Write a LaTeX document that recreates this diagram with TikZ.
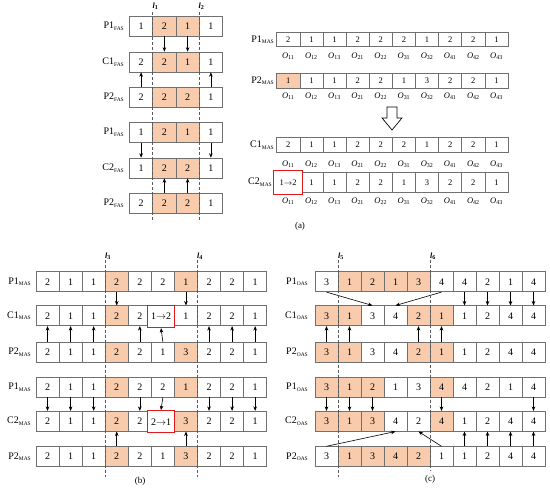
\documentclass[tikz,border=0pt]{standalone}
\usepackage{fontspec}
\setmainfont{Liberation Serif}
\usetikzlibrary{arrows.meta}
\definecolor{orng}{HTML}{F8CBAD}
\definecolor{cellline}{HTML}{707070}
\definecolor{redbox}{HTML}{E31A1C}
\newcommand{\lbl}[2]{#1\raisebox{-0.35ex}{\fontsize{5.5}{6}\selectfont #2}}
\newcommand{\Osub}[1]{\textit{O}\textsubscript{#1}}
\newcommand{\lsub}[1]{\textbf{\textit{l}}\textsubscript{\textbf{#1}}}
\newcommand{\cellrow}[7]{%
  \foreach \v/\f [count=\i] in {#7} {%
    \node[cell,#1,fill=\f,minimum width=#4pt,minimum height=#6pt] (#2\i) at ({#3+(\i-0.5)*#4},{#5+#6/2}) {\v};
  }}
\newcommand{\olabels}[4]{%
  \foreach \o [count=\i] in {11,12,13,21,22,31,32,41,42,43} {%
    \node[olbl] (#1\i) at ({#2+(\i-0.5)*#3},#4) {\Osub{\o}};
  }}
\begin{document}
\begin{tikzpicture}[x=1pt,y=-1pt,
  cell/.style={draw=cellline, line width=0.6pt, inner sep=0pt, font=\fontsize{10}{12}\selectfont},
  small/.style={font=\fontsize{8.5}{10}\selectfont},
  redcell/.style={draw=redbox, line width=1.2pt, fill=white, inner sep=0pt, font=\fontsize{10}{12}\selectfont},
  rowlbl/.style={anchor=east, inner sep=0pt, font=\fontsize{10}{12}\selectfont},
  olbl/.style={inner sep=0pt, font=\fontsize{8.5}{10}\selectfont},
  arr/.style={-{Stealth[length=4.5pt,width=3.6pt]}, line width=0.6pt},
  dline/.style={dash pattern=on 3pt off 2pt, line width=0.6pt, draw=gray!70!black},
  llbl/.style={inner sep=0pt, font=\fontsize{8}{9}\selectfont},
  caption/.style={inner sep=0pt, font=\fontsize{9}{11}\selectfont}]
\useasboundingbox (0,0) rectangle (550,489);

% ---------------- (a) FAS ----------------
\cellrow{}{fa}{129.5}{23.25}{16}{20}{1/white,2/orng,1/orng,1/white}
\cellrow{}{fb}{129.5}{23.25}{52}{20}{2/white,2/orng,1/orng,1/white}
\cellrow{}{fc}{129.5}{23.25}{87}{20}{2/white,2/orng,2/orng,1/white}
\cellrow{}{fd}{129.5}{23.25}{122.5}{20}{1/white,2/orng,1/orng,1/white}
\cellrow{}{fe}{129.5}{23.25}{158}{20}{1/white,2/orng,2/orng,1/white}
\cellrow{}{ff}{129.5}{23.25}{193.5}{20}{2/white,2/orng,2/orng,1/white}
\node[rowlbl] (lfa) at (124,26) {\lbl{P1}{FAS}};
\node[rowlbl] (lfb) at (124,62) {\lbl{C1}{FAS}};
\node[rowlbl] (lfc) at (124,97) {\lbl{P2}{FAS}};
\node[rowlbl] (lfd) at (124,132.5) {\lbl{P1}{FAS}};
\node[rowlbl] (lfe) at (124,168) {\lbl{C2}{FAS}};
\node[rowlbl] (lff) at (124,203.5) {\lbl{P2}{FAS}};
\draw[arr] (fa2.south) -- (fb2.north);
\draw[arr] (fa3.south) -- (fb3.north);
\draw[arr] (fc1.north) -- (fb1.south);
\draw[arr] (fc4.north) -- (fb4.south);
\draw[arr] (fd1.south) -- (fe1.north);
\draw[arr] (fd4.south) -- (fe4.north);
\draw[arr] (ff2.north) -- (fe2.south);
\draw[arr] (ff3.north) -- (fe3.south);
\coordinate (d1t) at (152.75,12); \coordinate (d1b) at (152.75,222);
\coordinate (d2t) at (199.25,12); \coordinate (d2b) at (199.25,222);
\draw[dline] (d1t) -- (d1b);
\draw[dline] (d2t) -- (d2b);
\node[llbl] (l1) at (155.5,6) {\lsub{1}};
\node[llbl] (l2) at (201.5,6) {\lsub{2}};

% ---------------- (a) MAS ----------------
\cellrow{small}{ma}{276.7}{23.13}{32.7}{14}{2/white,1/white,1/white,2/white,2/white,2/white,1/white,2/white,2/white,1/white}
\olabels{oa}{276.7}{23.13}{56}
\cellrow{small}{mb}{276.7}{23.13}{73.5}{14.5}{1/orng,1/white,1/white,2/white,2/white,1/white,3/white,2/white,2/white,1/white}
\olabels{ob}{276.7}{23.13}{96.5}
\cellrow{small}{mc}{276.7}{23.13}{137.5}{15}{2/white,1/white,1/white,2/white,2/white,2/white,1/white,2/white,2/white,1/white}
\olabels{oc}{276.7}{23.13}{164}
\cellrow{small}{md}{276.7}{23.13}{172.5}{19.5}{/white,1/white,1/white,2/white,2/white,1/white,3/white,2/white,2/white,1/white}
\node[redcell,small,minimum width=29.4pt,minimum height=23.4pt] (rma) at (288,182.5) {1$\to$2};
\olabels{od}{276.7}{23.13}{201.5}
\node[rowlbl] (lma) at (274,39.7) {\lbl{P1}{MAS}};
\node[rowlbl] (lmb) at (274,80.7) {\lbl{P2}{MAS}};
\node[rowlbl] (lmc) at (274,145) {\lbl{C1}{MAS}};
\node[rowlbl] (lmd) at (272,182.5) {\lbl{C2}{MAS}};
\draw[fill=white, line width=0.7pt] (387,107) -- (397,107) -- (397,118) -- (402,118) -- (392,130) -- (382,118) -- (387,118) -- cycle;
\node[caption] (capa) at (300,226) {(a)};

% ---------------- (b) ----------------
\cellrow{}{ba}{36}{23.07}{271.8}{20}{2/white,1/white,1/white,2/orng,2/white,2/white,1/orng,2/white,2/white,1/white}
\cellrow{}{bb}{36}{23.07}{305.8}{20}{2/white,1/white,1/white,2/orng,2/white,/white,1/white,2/white,2/white,1/white}
\node[redcell,minimum width=26.8pt,minimum height=22pt] (rbb) at (161,316.5) {1$\to$2};
\cellrow{}{bc}{36}{23.07}{342.2}{20}{2/white,1/white,1/white,2/orng,2/white,1/white,3/orng,2/white,2/white,1/white}
\cellrow{}{bd}{36}{23.07}{377}{20}{2/white,1/white,1/white,2/orng,2/white,2/white,1/orng,2/white,2/white,1/white}
\cellrow{}{be}{36}{23.07}{411.2}{20}{2/white,1/white,1/white,2/orng,2/white,/white,3/orng,2/white,2/white,1/white}
\node[redcell,minimum width=26.8pt,minimum height=22pt] (rbe) at (161,421.7) {2$\to$1};
\cellrow{}{bf}{36}{23.07}{446.6}{20}{2/white,1/white,1/white,2/orng,2/white,1/white,3/orng,2/white,2/white,1/white}
\node[rowlbl] (lba) at (31,281.8) {\lbl{P1}{MAS}};
\node[rowlbl] (lbb) at (31,315.8) {\lbl{C1}{MAS}};
\node[rowlbl] (lbc) at (31,352.2) {\lbl{P2}{MAS}};
\node[rowlbl] (lbd) at (31,387) {\lbl{P1}{MAS}};
\node[rowlbl] (lbe) at (31,421.2) {\lbl{C2}{MAS}};
\node[rowlbl] (lbf) at (31,456.6) {\lbl{P2}{MAS}};
\draw[arr] (ba4.south) -- (bb4.north);
\draw[arr] (ba7.south) -- (bb7.north);
\foreach \k in {1,2,3,5,8,9,10} \draw[arr] (bc\k.north) -- (bb\k.south);
\draw[arr] (bc6.north) -- (rbb.south);
\foreach \k in {1,2,3,5,8,9,10} \draw[arr] (bd\k.south) -- (be\k.north);
\draw[arr] (bd6.south) -- (rbe.north);
\draw[arr] (bf4.north) -- (be4.south);
\draw[arr] (bf7.north) -- (be7.south);
\coordinate (d3t) at (105.2,260); \coordinate (d3b) at (105.2,477);
\coordinate (d4t) at (197.5,260); \coordinate (d4b) at (197.5,477);
\draw[dline] (d3t) -- (d3b);
\draw[dline] (d4t) -- (d4b);
\node[llbl] (l3) at (108,256) {\lsub{3}};
\node[llbl] (l4) at (200,256) {\lsub{4}};
\node[caption] (capb) at (140,481) {(b)};

% ---------------- (c) ----------------
\cellrow{}{ca}{315}{23}{271.8}{20}{3/white,1/orng,2/orng,1/orng,3/orng,4/white,4/white,2/white,1/white,4/white}
\cellrow{}{cb}{315}{23}{305.8}{20}{3/orng,1/orng,3/white,4/white,2/orng,1/orng,1/white,2/white,4/white,4/white}
\cellrow{}{cc}{315}{23}{342.2}{20}{3/orng,1/orng,3/white,4/white,2/orng,1/orng,1/white,2/white,4/white,4/white}
\cellrow{}{cd}{315}{23}{377}{20}{3/orng,1/orng,2/orng,1/white,3/white,4/orng,4/white,2/white,1/white,4/white}
\cellrow{}{ce}{315}{23}{411.2}{20}{3/orng,1/orng,3/orng,4/white,2/white,4/orng,1/white,2/white,4/white,4/white}
\cellrow{}{cf}{315}{23}{446.6}{20}{3/white,1/orng,3/orng,4/orng,2/orng,1/white,1/white,2/white,4/white,4/white}
\node[rowlbl] (lca) at (308,281.8) {\lbl{P1}{OAS}};
\node[rowlbl] (lcb) at (308,315.8) {\lbl{C1}{OAS}};
\node[rowlbl] (lcc) at (308,352.2) {\lbl{P2}{OAS}};
\node[rowlbl] (lcd) at (308,387) {\lbl{P1}{OAS}};
\node[rowlbl] (lce) at (308,421.2) {\lbl{C2}{OAS}};
\node[rowlbl] (lcf) at (308,456.6) {\lbl{P2}{OAS}};
\draw[arr] (ca1.south) -- (cb3.north);
\draw[arr] (ca6.south) -- (cb4.north);
\foreach \k in {7,8,9,10} \draw[arr] (ca\k.south) -- (cb\k.north);
\foreach \k in {1,2,5,6} \draw[arr] (cc\k.north) -- (cb\k.south);
\foreach \k in {1,2,3,6,10} \draw[arr] (cd\k.south) -- (ce\k.north);
\foreach \k in {7,8,9,10} \draw[arr] (cf\k.north) -- (ce\k.south);
\draw[arr] (cf1.north) -- (ce4.south);
\draw[arr] (cf6.north) -- (ce5.south);
\coordinate (d5t) at (338,260); \coordinate (d5b) at (338,477);
\coordinate (d6t) at (430,260); \coordinate (d6b) at (430,471);
\draw[dline] (d5t) -- (d5b);
\draw[dline] (d6t) -- (d6b);
\node[llbl] (l5) at (341,256) {\lsub{5}};
\node[llbl] (l6) at (433,256) {\lsub{6}};
\node[caption] (capc) at (430,479) {(c)};
\end{tikzpicture}
\end{document}
